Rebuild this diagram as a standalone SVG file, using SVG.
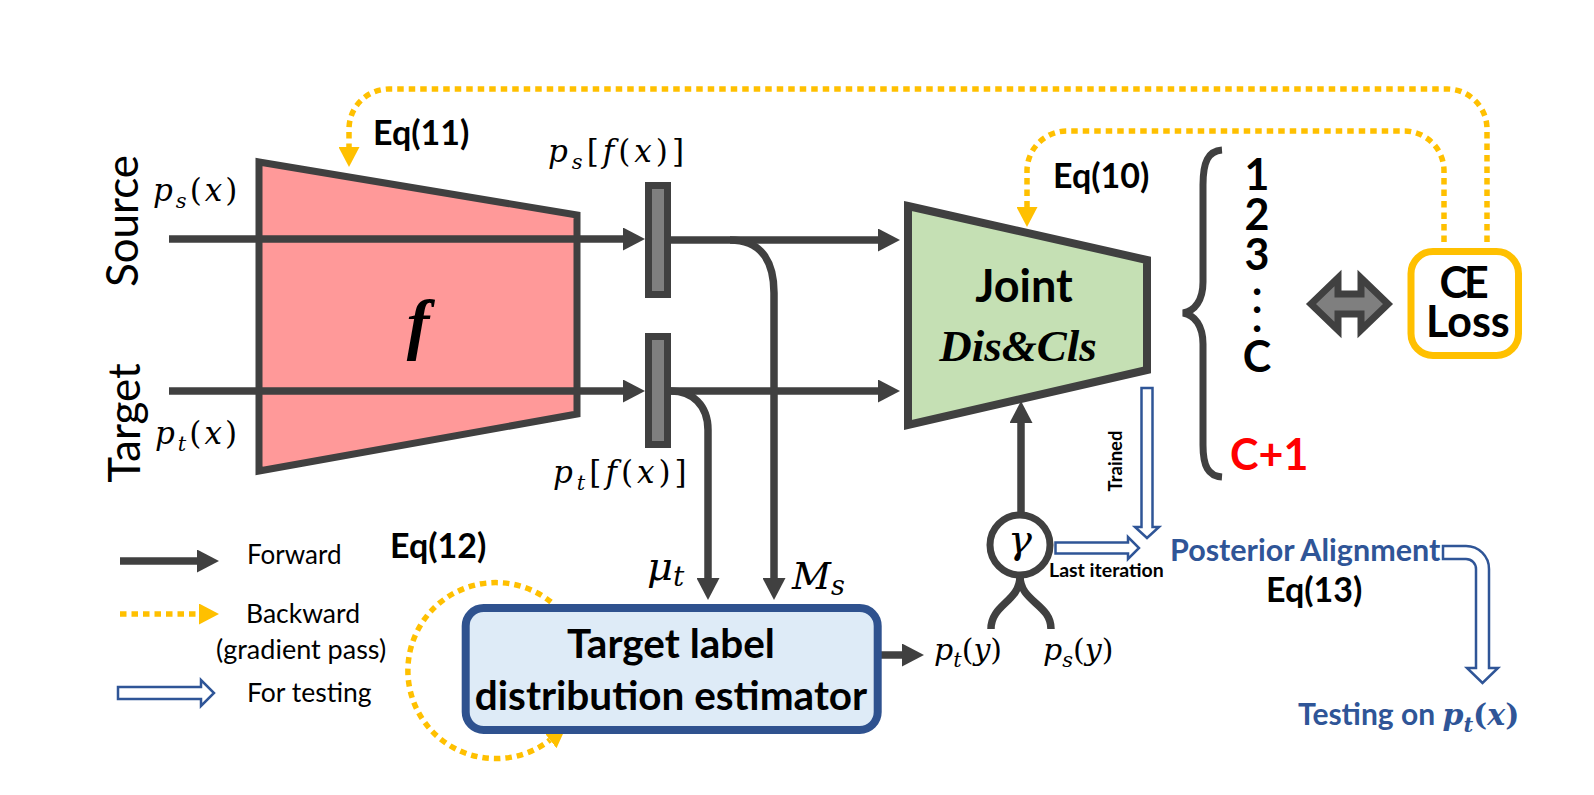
<svg xmlns="http://www.w3.org/2000/svg" width="1594" height="795" viewBox="0 0 1594 795">
<style>
.s{font-family:Lato,"Liberation Sans",sans-serif;}
.b{font-family:Lato,"Liberation Sans",sans-serif;font-weight:bold;}
.m{font-family:"DejaVu Serif","Liberation Serif",serif;font-style:italic;}
.up{font-style:normal;}
.ln{fill:none;stroke:#404040;stroke-width:7.5;}
.dot{fill:none;stroke:#FFC000;stroke-width:5.5;stroke-dasharray:6.5 5;}
.hol{fill:#fff;stroke:#2F5597;stroke-width:2.5;stroke-linejoin:miter;}
</style>
<defs>
<marker id="ah" viewBox="0 0 22 23" refX="2" refY="11.5" markerWidth="22" markerHeight="23" markerUnits="userSpaceOnUse" orient="auto"><path d="M0,0 L22,11.5 L0,23 z" fill="#404040"/></marker>
<marker id="ay" viewBox="0 0 20 21" refX="0" refY="10.5" markerWidth="20" markerHeight="21" markerUnits="userSpaceOnUse" orient="auto"><path d="M0,0 L20,10.5 L0,21 z" fill="#FFC000"/></marker>
</defs>
<rect width="1594" height="795" fill="#fff"/>

<g id="side-labels">
<text class="s" font-size="44" text-anchor="middle" transform="translate(138,221) rotate(-90)">Source</text>
<text class="s" font-size="44" text-anchor="middle" transform="translate(140,423) rotate(-90)">Target</text>
<text class="m" font-size="31" letter-spacing="3" x="153" y="201">p<tspan font-size="21" dy="7">s</tspan><tspan class="up" dy="-7">(</tspan>x<tspan class="up">)</tspan></text>
<text class="m" font-size="31" letter-spacing="3" x="155" y="444">p<tspan font-size="21" dy="7">t</tspan><tspan class="up" dy="-7">(</tspan>x<tspan class="up">)</tspan></text>
</g>

<g id="connectors">
<path class="ln" d="M169,239 H625" marker-end="url(#ah)"/>
<path class="ln" d="M169,391 H625" marker-end="url(#ah)"/>
<path class="ln" d="M671,240 H880" marker-end="url(#ah)"/>
<path class="ln" d="M671,391 H880" marker-end="url(#ah)"/>
<path class="ln" d="M730,240 C760,240 774,260 774,293 V580" marker-end="url(#ah)"/>
<path class="ln" d="M671,391 C692,391 708,405 708,430 V580" marker-end="url(#ah)"/>
<path class="ln" d="M881,655 H904" marker-end="url(#ah)"/>
<path class="ln" d="M1021,512 V421" marker-end="url(#ah)"/>
<path class="ln" d="M1020,576 C1020,602 991,604 991,629"/>
<path class="ln" d="M1020,576 C1020,602 1051,604 1051,629"/>
<path class="dot" d="M1487,242 V129 A40,40 0 0 0 1447,89 H389 A40,40 0 0 0 349,129 V147" marker-end="url(#ay)"/>
<path class="dot" d="M1444,242 V171 A40,40 0 0 0 1404,131 H1067 A40,40 0 0 0 1027,171 V207" marker-end="url(#ay)"/>
<path class="dot" d="M551,602 A88,88 0 1 0 550,740" marker-end="url(#ay)"/>
<polygon class="hol" points="1141.5,388 1152.5,388 1152.5,527 1159,527 1147,538 1135,527 1141.5,527"/>
<polygon class="hol" points="1055.5,542.5 1128,542.5 1128,537 1139,548 1128,559 1128,553.5 1055.5,553.5"/>
<path class="hol" d="M1443,546 H1466 A23,23 0 0 1 1489,569 V668 H1498 L1482.5,683 L1467,668 H1476 V569 A10,10 0 0 0 1466,559 H1443 Z"/>
<polygon points="1311,304 1338,278 1338,294 1361,294 1361,278 1388,304 1361,330 1361,314 1338,314 1338,330" fill="#7F7F7F" stroke="#404040" stroke-width="7" stroke-linejoin="miter"/>
</g>

<g id="encoder-f">
<polygon points="259,162 577,215 577,414 259,471" fill="#FF9999" stroke="#404040" stroke-width="7"/>
<path class="ln" d="M259,239 H577 M259,391 H577"/>
<text x="418" y="347" font-family="Liberation Serif,serif" font-style="italic" font-weight="bold" font-size="68" text-anchor="middle">f</text>
</g>

<g id="feature-source">
<rect x="648.5" y="185.5" width="19" height="109" fill="#7F7F7F" stroke="#404040" stroke-width="7"/>
<text class="m" font-size="31" letter-spacing="4" x="548" y="162">p<tspan font-size="21" dy="7">s</tspan><tspan class="up" dy="-7">[</tspan>f<tspan class="up">(</tspan>x<tspan class="up">)]</tspan></text>
</g>
<g id="feature-target">
<rect x="648.5" y="336.5" width="19" height="108" fill="#7F7F7F" stroke="#404040" stroke-width="7"/>
<text class="m" font-size="31" letter-spacing="4" x="553" y="483">p<tspan font-size="21" dy="7">t</tspan><tspan class="up" dy="-7">[</tspan>f<tspan class="up">(</tspan>x<tspan class="up">)]</tspan></text>
</g>

<g id="joint">
<polygon points="908,206 1147,260 1147,370 908,425" fill="#C5E0B4" stroke="#404040" stroke-width="8"/>
<text class="b" font-size="45" x="1024" y="302" text-anchor="middle">Joint</text>
<text x="1018" y="361" font-family="Liberation Serif,serif" font-style="italic" font-weight="bold" font-size="45" text-anchor="middle">Dis&amp;Cls</text>
</g>

<g id="eq-labels">
<text class="b" font-size="34" x="373" y="145">Eq(11)</text>
<text class="b" font-size="34" x="1053" y="188">Eq(10)</text>
<text class="b" font-size="34" x="390" y="558">Eq(12)</text>
<text class="b" font-size="34" x="1266" y="602">Eq(13)</text>
</g>

<g id="classes">
<path class="ln" style="stroke-width:7" d="M1222,150 C1208,151 1203,162 1203,185 V282 C1203,300 1195,311 1183,313 C1195,315 1203,326 1203,344 V445 C1203,466 1208,476 1222,477"/>
<text class="b" font-size="43" text-anchor="middle" x="1257 1257 1257 1257 1257 1257 1257" y="190 230 270 295 313 332 372">123...C</text>
<text class="b" font-size="43" x="1230" y="470" fill="#FF0000">C+1</text>
</g>

<g id="ce-loss">
<rect x="1411" y="251.5" width="107.5" height="104" rx="22" fill="#fff" stroke="#FFC000" stroke-width="7"/>
<text class="b" font-size="43" x="1439.5 1464 1490 1426" y="298 298 298 337">CE Loss</text>
</g>

<g id="estimator">
<rect x="465.7" y="608" width="412" height="122" rx="18" fill="#DEEBF7" stroke="#2F528F" stroke-width="8"/>
<text class="b" font-size="40.5" x="671" y="658" text-anchor="middle">Target label</text>
<text class="b" font-size="40.5" x="671" y="710" text-anchor="middle">distribution estimator</text>
<text class="m" font-size="40" x="647" y="580">μ<tspan font-size="28" dy="6">t</tspan></text>
<text class="m" font-size="38" x="792" y="589">M<tspan font-size="27" dy="6">s</tspan></text>
</g>

<g id="gamma">
<circle cx="1020" cy="545" r="30" fill="#fff" stroke="#404040" stroke-width="7"/>
<text class="m" font-size="40" x="1020" y="553" text-anchor="middle">γ</text>
<text class="m" font-size="30" x="934" y="660">p<tspan font-size="21" dy="7">t</tspan><tspan class="up" dy="-7">(</tspan>y<tspan class="up">)</tspan></text>
<text class="m" font-size="30" x="1043" y="660">p<tspan font-size="21" dy="7">s</tspan><tspan class="up" dy="-7">(</tspan>y<tspan class="up">)</tspan></text>
<text class="b" font-size="19.5" x="1049" y="577">Last iteration</text>
<text class="b" font-size="18.5" text-anchor="middle" transform="translate(1122,461) rotate(-90)">Trained</text>
</g>

<g id="testing">
<text class="b" font-size="30.5" x="1170" y="561" fill="#2F5597">Posterior Alignment</text>
<text class="b" font-size="30" x="1298" y="725" fill="#2F5597">Testing on <tspan class="m" font-weight="bold" font-size="30">p</tspan><tspan class="m" font-weight="bold" font-size="21" dy="7">t</tspan><tspan font-family="DejaVu Serif,serif" font-size="30" font-weight="bold" dy="-7">(</tspan><tspan class="m" font-weight="bold" font-size="30">x</tspan><tspan font-family="DejaVu Serif,serif" font-size="30" font-weight="bold">)</tspan></text>
</g>

<g id="legend">
<path class="ln" d="M120,561 H199" marker-end="url(#ah)"/>
<text class="s" font-size="26" x="247" y="564">Forward</text>
<path class="dot" d="M120,614 H199" marker-end="url(#ay)"/>
<text class="s" font-size="26.5" x="246" y="623">Backward</text>
<text class="s" font-size="27" x="216" y="659">(gradient pass)</text>
<polygon class="hol" points="118,687 201,687 201,680 214,693 201,706 201,699 118,699"/>
<text class="s" font-size="26.5" x="247" y="702">For testing</text>
</g>
</svg>
